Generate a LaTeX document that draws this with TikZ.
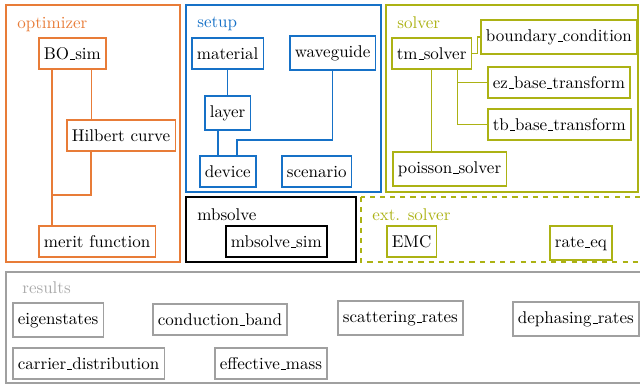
\documentclass[tikz,border=0pt]{standalone}
\usetikzlibrary{calc}
\definecolor{optorange}{RGB}{232,124,56}
\definecolor{setupblue}{RGB}{22,113,199}
\definecolor{solvolive}{RGB}{172,178,20}
\definecolor{resgray}{RGB}{160,160,160}
\definecolor{reslabel}{RGB}{170,170,170}
% short low rule for the underscores in identifiers
\newcommand{\lowbar}{\leavevmode\kern.06em\vbox{\hrule width .3em}}

\begin{document}
\begin{tikzpicture}[x=0.588pt,y=-0.588pt,
  box/.style={draw=#1, line width=0.9pt, inner xsep=3pt, inner ysep=5.6pt,
    text height=7pt, anchor=north west, fill=white, text=black},
  frame/.style={line width=0.9pt},
  lbl/.style={anchor=base west, inner sep=0pt},
  link/.style={line width=0.9pt}]
\useasboundingbox (0,0) rectangle (640,386);
\clip (0,0) rectangle (640,386);

% ---------- group frames ----------
\draw[frame, optorange] (6,5) rectangle (180,262);
\node[lbl, optorange] (optlbl) at (17,28) {optimizer};

\draw[frame, setupblue] (186,5) rectangle (381,192);
\node[lbl, setupblue] (setlbl) at (197,27) {setup};

\draw[frame, solvolive] (386,5) rectangle (638,192);
\node[lbl, solvolive] (sollbl) at (397,28) {solver};

\draw[frame, black] (186,197) rectangle (356,262);
\node[lbl, black] (mblbl) at (197,220) {mbsolve};

\draw[frame, solvolive, dashed] (361,197) rectangle (660,262);
\node[lbl, solvolive] (extlbl) at (372,220) {ext. solver};

\draw[frame, resgray] (6,272) rectangle (660,383);
\node[lbl, reslabel] (reslbl) at (22,293) {results};

% ---------- optimizer ----------
\node[box=optorange] (bo) at (38,37) {BO\lowbar sim};
\node[box=optorange] (hil) at (66,119) {Hilbert curve};
\node[box=optorange] (merit) at (38,225) {merit function};

\coordinate (boL) at ($(bo.south west)+(14,0)$);
\coordinate (boR) at ($(bo.south east)+(-15,0)$);
\coordinate (hilB) at ($(hil.south west)+(25,0)$);
\draw[link, optorange] (boL) -- (boL |- merit.north);
\draw[link, optorange] (boR) -- (boR |- hil.north);
\draw[link, optorange] (hilB) |- ($(boL)+(0,125)$);

% ---------- setup ----------
\node[box=setupblue] (mat) at (191,37) {material};
\node[box=setupblue] (wg) at (289,35) {waveguide};
\node[box=setupblue] (layer) at (204,95) {layer};
\node[box=setupblue] (dev) at (199,155) {device};
\node[box=setupblue] (scen) at (281,155) {scenario};

\draw[link, setupblue] (mat.south) -- (mat.south |- layer.north);
\coordinate (layB) at ($(layer.south west)+(14,0)$);
\draw[link, setupblue] (layB) -- (layB |- dev.north);
\coordinate (devT) at ($(dev.north west)+(38,0)$);
\draw[link, setupblue] (wg.south) |- ($(devT)+(0,-15)$) -- (devT);

% ---------- solver ----------
\node[box=solvolive] (tm) at (391,37) {tm\lowbar solver};
\node[box=solvolive] (bc) at (480,19) {boundary\lowbar condition};
\node[box=solvolive] (ez) at (487,66) {ez\lowbar base\lowbar transform};
\node[box=solvolive] (tb) at (487,108) {tb\lowbar base\lowbar transform};
\node[box=solvolive] (poi) at (392,151) {poisson\lowbar solver};

\draw[link, solvolive] (tm.east) -- ++(5,0) |- (bc.west);
\coordinate (tmR) at ($(tm.south east)+(-15,0)$);
\draw[link, solvolive] (tmR) |- (ez.west);
\draw[link, solvolive] (tmR) |- (tb.west);
\draw[link, solvolive] (tm.south) -- (tm.south |- poi.north);

% ---------- mbsolve and external solvers ----------
\node[box=black] (mbsim) at (225,225) {mbsolve\lowbar sim};
\node[box=solvolive] (emc) at (386,225) {EMC};
\node[box=solvolive] (rateq) at (549,225) {rate\lowbar eq};

% ---------- results ----------
\node[box=resgray] (eig) at (12,302) {eigenstates};
\node[box=resgray] (cb) at (152,303) {conduction\lowbar band};
\node[box=resgray] (sr) at (337,300) {scattering\lowbar rates};
\node[box=resgray] (dr) at (512,301) {dephasing\lowbar rates};
\node[box=resgray] (cd) at (12,347) {carrier\lowbar distribution};
\node[box=resgray] (em) at (214,347) {effective\lowbar mass};
\end{tikzpicture}
\end{document}
